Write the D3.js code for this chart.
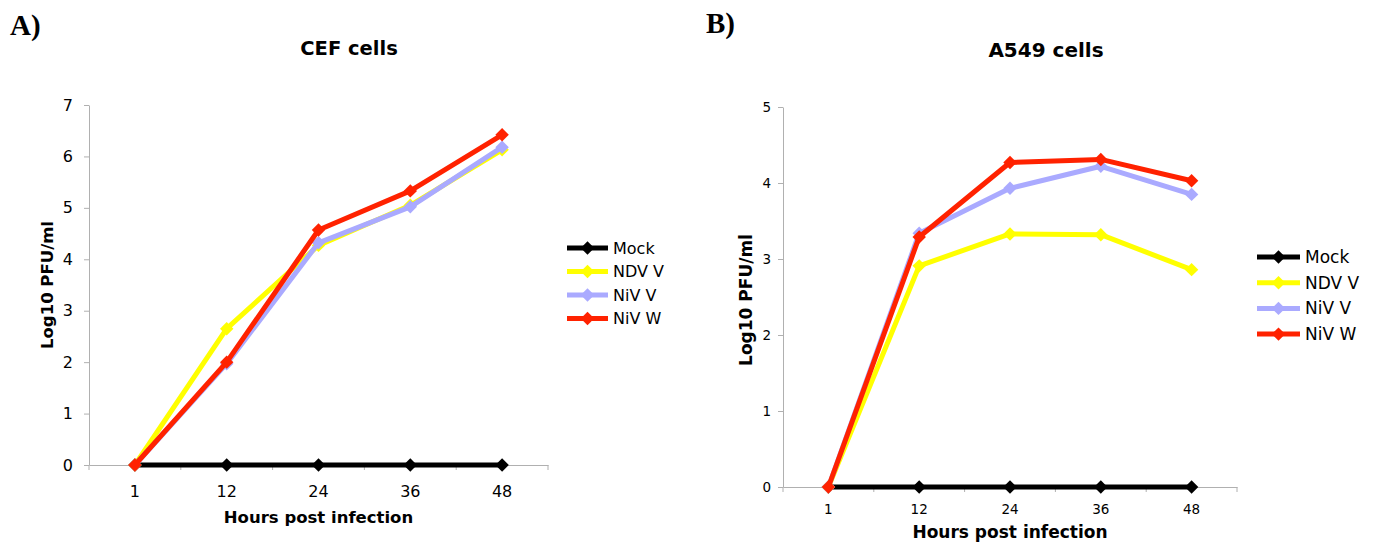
<!DOCTYPE html>
<html>
<head>
<meta charset="utf-8">
<script src="https://d3js.org/d3.v7.min.js"></script>
<style>
  body { margin: 0; background: #fff; }
  svg { display: block; }
</style>
</head>
<body>
<div id="main"></div>
<script>
// hours post infection (categories)
var hours = ["1", "12", "24", "36", "48"];
var seriesNames = ["Mock", "NDV V", "NiV V", "NiV W"];
var seriesColors = ["#000000", "#ffff00", "#aaaaff", "#ff2200"];

// CEF cells, log10 PFU/ml
var cefMock = [0, 0, 0, 0, 0];
var cefNdvV = [0, 2.65, 4.27, 5.05, 6.13];
var cefNivV = [0, 1.97, 4.32, 5.02, 6.18];
var cefNivW = [0, 2.0, 4.57, 5.33, 6.42];
var cefTicks = [0, 1, 2, 3, 4, 5, 6, 7];

// A549 cells, log10 PFU/ml
var a549Mock = [0, 0, 0, 0, 0];
var a549NdvV = [0, 2.91, 3.33, 3.32, 2.86];
var a549NivV = [0, 3.34, 3.93, 4.22, 3.85];
var a549NivW = [0, 3.29, 4.27, 4.31, 4.03];
var a549Ticks = [0, 1, 2, 3, 4, 5];

var width = 1375, height = 543;
var svg = d3.select("#main").append("svg")
    .attr("width", width)
    .attr("height", height);

var font = "DejaVu Sans, Verdana, sans-serif";

function panel(p) {
  var x = d3.scaleBand().domain(hours).range([p.left, p.right]);
  var y = d3.scaleLinear().domain([0, d3.max(p.ticks)]).range([p.bottom, p.top]);
  var g = svg.append("g");

  // panel letter
  g.append("text")
      .attr("x", p.letterX).attr("y", p.letterY)
      .style("font-family", "Liberation Serif, Times New Roman, serif")
      .style("font-weight", "bold")
      .style("font-size", p.letterSize + "px")
      .text(p.letter);

  // title
  g.append("text")
      .attr("x", p.titleX).attr("y", p.titleY)
      .attr("text-anchor", "middle")
      .style("font-family", font).style("font-weight", "bold")
      .style("font-size", p.titleSize + "px")
      .text(p.title);

  // y axis
  var ya = g.append("g")
      .attr("transform", "translate(" + p.left + ",0)")
      .call(d3.axisLeft(y).tickValues(p.ticks).tickFormat(d3.format("d"))
        .tickSize(5).tickSizeOuter(0).tickPadding(p.yPad));
  ya.select(".domain").attr("stroke", "#b0b0b0");
  ya.selectAll(".tick line").attr("stroke", "#b0b0b0");
  ya.selectAll("text").style("font-family", font).style("font-size", p.tickSize + "px").attr("fill", "#000");

  // x axis
  var xa = g.append("g")
      .attr("transform", "translate(0," + p.bottom + ")")
      .call(d3.axisBottom(x).tickSize(0).tickPadding(p.xPad));
  xa.select(".domain").attr("stroke", "#b0b0b0");
  xa.selectAll("text").style("font-family", font).style("font-size", p.tickSize + "px").attr("fill", "#000");
  // ticks between categories
  var bounds = hours.map(function(h) { return x(h); }).concat([p.right]);
  xa.selectAll(".bound").data(bounds).enter().append("line")
      .attr("x1", function(d) { return d; }).attr("x2", function(d) { return d; })
      .attr("y1", 0).attr("y2", 5)
      .attr("stroke", "#b0b0b0");

  // axis titles
  g.append("text")
      .attr("x", (p.left + p.right) / 2).attr("y", p.xTitleY)
      .attr("text-anchor", "middle")
      .style("font-family", font).style("font-weight", "bold")
      .style("font-size", p.axisTitleSize + "px")
      .text("Hours post infection");
  g.append("text")
      .attr("transform", "translate(" + p.yTitleX + "," + p.yTitleY + ") rotate(-90)")
      .attr("text-anchor", "middle")
      .attr("dy", "0.35em")
      .style("font-family", font).style("font-weight", "bold")
      .style("font-size", p.axisTitleSize + "px")
      .text("Log10 PFU/ml");

  var cx = function(i) { return x(hours[i]) + x.bandwidth() / 2; };
  var line = d3.line()
      .x(function(d, i) { return cx(i); })
      .y(function(d) { return y(d); });
  var marker = d3.symbol().type(d3.symbolSquare).size(90);

  p.data.forEach(function(vals, s) {
    var sg = g.append("g");
    sg.append("path")
        .attr("d", line(vals))
        .attr("fill", "none")
        .attr("stroke", seriesColors[s])
        .attr("stroke-width", 5)
        .attr("stroke-linejoin", "round");
    sg.selectAll("path.m").data(vals).enter().append("path")
        .attr("class", "m")
        .attr("d", marker)
        .attr("transform", function(d, i) { return "translate(" + cx(i) + "," + y(d) + ") rotate(45)"; })
        .attr("fill", seriesColors[s]);
  });

  // legend
  var lg = g.append("g");
  seriesNames.forEach(function(name, s) {
    var ly = p.legY + s * p.legStep;
    lg.append("line")
        .attr("x1", p.legX).attr("x2", p.legX + p.legLen)
        .attr("y1", ly).attr("y2", ly)
        .attr("stroke", seriesColors[s]).attr("stroke-width", 5);
    lg.append("path")
        .attr("d", marker)
        .attr("transform", "translate(" + (p.legX + p.legLen / 2) + "," + ly + ") rotate(45)")
        .attr("fill", seriesColors[s]);
    lg.append("text")
        .attr("x", p.legX + p.legLen + 5).attr("y", ly)
        .attr("dy", "0.35em")
        .style("font-family", font)
        .style("font-size", p.legSize + "px")
        .text(name);
  });
}

panel({
  letter: "A)", letterX: 10, letterY: 35, letterSize: 29,
  title: "CEF cells", titleX: 349, titleY: 55, titleSize: 19.5,
  left: 89, right: 548, top: 105, bottom: 465,
  ticks: cefTicks, tickSize: 16, yPad: 11, xPad: 21,
  axisTitleSize: 16.5, xTitleY: 523, yTitleX: 47, yTitleY: 285,
  data: [cefMock, cefNdvV, cefNivV, cefNivW],
  legX: 567, legLen: 41, legY: 248, legStep: 23.5, legSize: 16
});

panel({
  letter: "B)", letterX: 706, letterY: 33, letterSize: 29,
  title: "A549 cells", titleX: 1046, titleY: 57, titleSize: 20,
  left: 783, right: 1237, top: 107, bottom: 487,
  ticks: a549Ticks, tickSize: 13.5, yPad: 7, xPad: 17,
  axisTitleSize: 17, xTitleY: 538, yTitleX: 746, yTitleY: 300,
  data: [a549Mock, a549NdvV, a549NivV, a549NivW],
  legX: 1257, legLen: 43, legY: 257, legStep: 25.7, legSize: 17
});
</script>
</body>
</html>
